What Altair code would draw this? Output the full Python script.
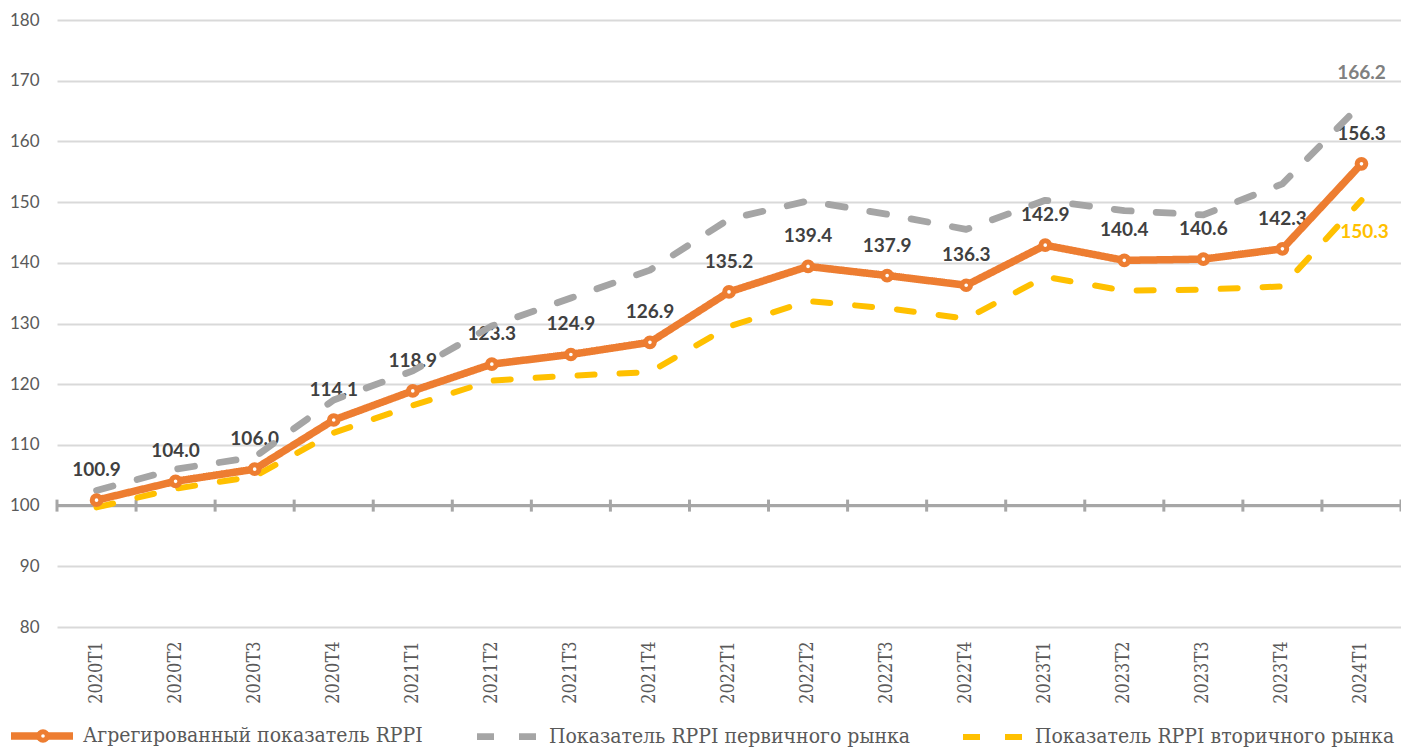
import altair as alt
import pandas as pd

quarters = ["2020T1", "2020T2", "2020T3", "2020T4", "2021T1", "2021T2", "2021T3", "2021T4",
            "2022T1", "2022T2", "2022T3", "2022T4", "2023T1", "2023T2", "2023T3", "2023T4", "2024T1"]
aggregated = [100.9, 104.0, 106.0, 114.1, 118.9, 123.3, 124.9, 126.9,
              135.2, 139.4, 137.9, 136.3, 142.9, 140.4, 140.6, 142.3, 156.3]
primary = [102.5, 106.0, 108.0, 117.4, 122.2, 129.6, 134.2, 138.8,
           147.2, 150.2, 148.0, 145.5, 150.3, 148.6, 147.9, 153.0, 166.2]
secondary = [99.7, 102.8, 104.8, 112.0, 116.5, 120.6, 121.4, 122.0,
             129.5, 133.7, 132.5, 130.8, 137.7, 135.4, 135.6, 136.1, 150.3]
series_names = ["Агрегированный показатель RPPI",
                "Показатель RPPI первичного рынка",
                "Показатель RPPI вторичного рынка"]
series_colors = ["#ED7D31", "#A5A5A5", "#FFC000"]
series_dashes = [[1, 0], [17, 25], [17, 25]]
series_widths = [7.5, 6, 6]
y_ticks = [80, 90, 100, 110, 120, 130, 140, 150, 160, 170, 180]
base_value = 100

rows = []
for name, vals in zip(series_names, [aggregated, primary, secondary]):
    for q, v in zip(quarters, vals):
        rows.append({"quarter": q, "series": name, "value": v,
                     "base": base_value, "pt": "marker"})
df = pd.DataFrame(rows)

SANS = "Lato, sans-serif"
SERIF = "DejaVu Serif Condensed, DejaVu Serif, serif"

x_scale = alt.Scale(type="band", domain=quarters, paddingInner=0, paddingOuter=0)
y_scale = alt.Scale(domain=[80, 180], nice=False, zero=False)

x_axis = alt.Axis(title=None, labelAngle=-90, labelFont=SERIF, labelFontSize=18,
                  labelColor="#595959", labelPadding=14, ticks=False, domain=False,
                  grid=False)
y_axis = alt.Axis(title=None, values=y_ticks, grid=True, gridColor="#D9D9D9",
                  gridWidth=2, domain=False, ticks=False, labelFont=SANS,
                  labelFontSize=17, labelColor="#595959", labelPadding=18)


def X(band=0.5):
    return alt.X("quarter:N", scale=x_scale, sort=quarters, bandPosition=band, axis=x_axis)


Y = alt.Y("value:Q", scale=y_scale, axis=y_axis)

legend_main = alt.Legend(orient="none", legendX=-50, legendY=681, direction="horizontal",
                         columns=3, title=None, symbolType="stroke", symbolSize=3844,
                         symbolStrokeWidth=7, labelFont=SERIF, labelFontSize=21,
                         labelColor="#595959", labelOffset=6, columnPadding=40,
                         labelLimit=600, padding=0)

color_enc = alt.Color("series:N", scale=alt.Scale(domain=series_names, range=series_colors),
                      legend=legend_main)
dash_enc = alt.StrokeDash("series:N", scale=alt.Scale(domain=series_names, range=series_dashes),
                          legend=legend_main)
width_enc = alt.StrokeWidth("series:N", scale=alt.Scale(domain=series_names, range=series_widths),
                            legend=None)

base = alt.Chart(df)
agg_only = alt.datum.series == series_names[0]

base_rule = base.transform_filter(agg_only).mark_rule(color="#A6A6A6", strokeWidth=3).encode(
    y=alt.Y("mean(base):Q", scale=y_scale, axis=y_axis))

ticks_left = base.transform_filter(agg_only).mark_rule(
    color="#A6A6A6", strokeWidth=3, yOffset=-6, y2Offset=6).encode(
    x=X(0), y=alt.Y("base:Q", scale=y_scale, axis=y_axis), y2="base:Q")
ticks_right = base.transform_filter(
    (alt.datum.series == series_names[0]) & (alt.datum.quarter == quarters[-1])).mark_rule(
    color="#A6A6A6", strokeWidth=3, yOffset=-6, y2Offset=6).encode(
    x=X(1), y=alt.Y("base:Q", scale=y_scale, axis=y_axis), y2="base:Q")

LBL = dict(font=SANS, fontSize=19, fontWeight="bold")
agg_labels = base.transform_filter(agg_only).mark_text(
    dy=-30, color="#404040", **LBL).encode(
    x=X(), y=Y, text=alt.Text("value:Q", format=".1f"))
prim_label = base.transform_filter(
    (alt.datum.series == series_names[1]) & (alt.datum.quarter == quarters[-1])).mark_text(
    dy=-31, color="#808080", **LBL).encode(
    x=X(), y=Y, text=alt.Text("value:Q", format=".1f"))
sec_label = base.transform_filter(
    (alt.datum.series == series_names[2]) & (alt.datum.quarter == quarters[-1])).mark_text(
    dy=32, dx=3, color="#FFC000", **LBL).encode(
    x=X(), y=Y, text=alt.Text("value:Q", format=".1f"))

lines_back = base.transform_filter(~agg_only).mark_line(
    strokeCap="round", strokeJoin="round").encode(
    x=X(), y=Y, color=color_enc, strokeDash=dash_enc, strokeWidth=width_enc)
lines_front = base.transform_filter(agg_only).mark_line(
    strokeCap="round", strokeJoin="round").encode(
    x=X(), y=Y, color=color_enc, strokeDash=dash_enc, strokeWidth=width_enc)

points = base.transform_filter(agg_only).mark_point(
    filled=False, fill="white", fillOpacity=1, strokeWidth=5, size=75, opacity=1).encode(
    x=X(), y=Y,
    stroke=alt.Stroke("pt:N", scale=alt.Scale(domain=["marker"], range=["#ED7D31"]),
                      legend=alt.Legend(orient="none", legendX=-21, legendY=709, title=None,
                                        labelExpr="''", labelFontSize=1, labelOffset=0,
                                        symbolType="circle", symbolSize=75,
                                        symbolStrokeWidth=5, symbolFillColor="white",
                                        padding=0)))

chart = alt.layer(
    base_rule, ticks_left, ticks_right, agg_labels, prim_label, sec_label,
    lines_back, lines_front, points
).properties(
    width=1344, height=607,
    autosize=alt.AutoSizeParams(type="none"),
    padding={"left": 49, "top": 12, "right": 0, "bottom": 122},
).configure_view(stroke=None)

chart.save("out.html", embed_options={"renderer": "svg", "actions": False})
